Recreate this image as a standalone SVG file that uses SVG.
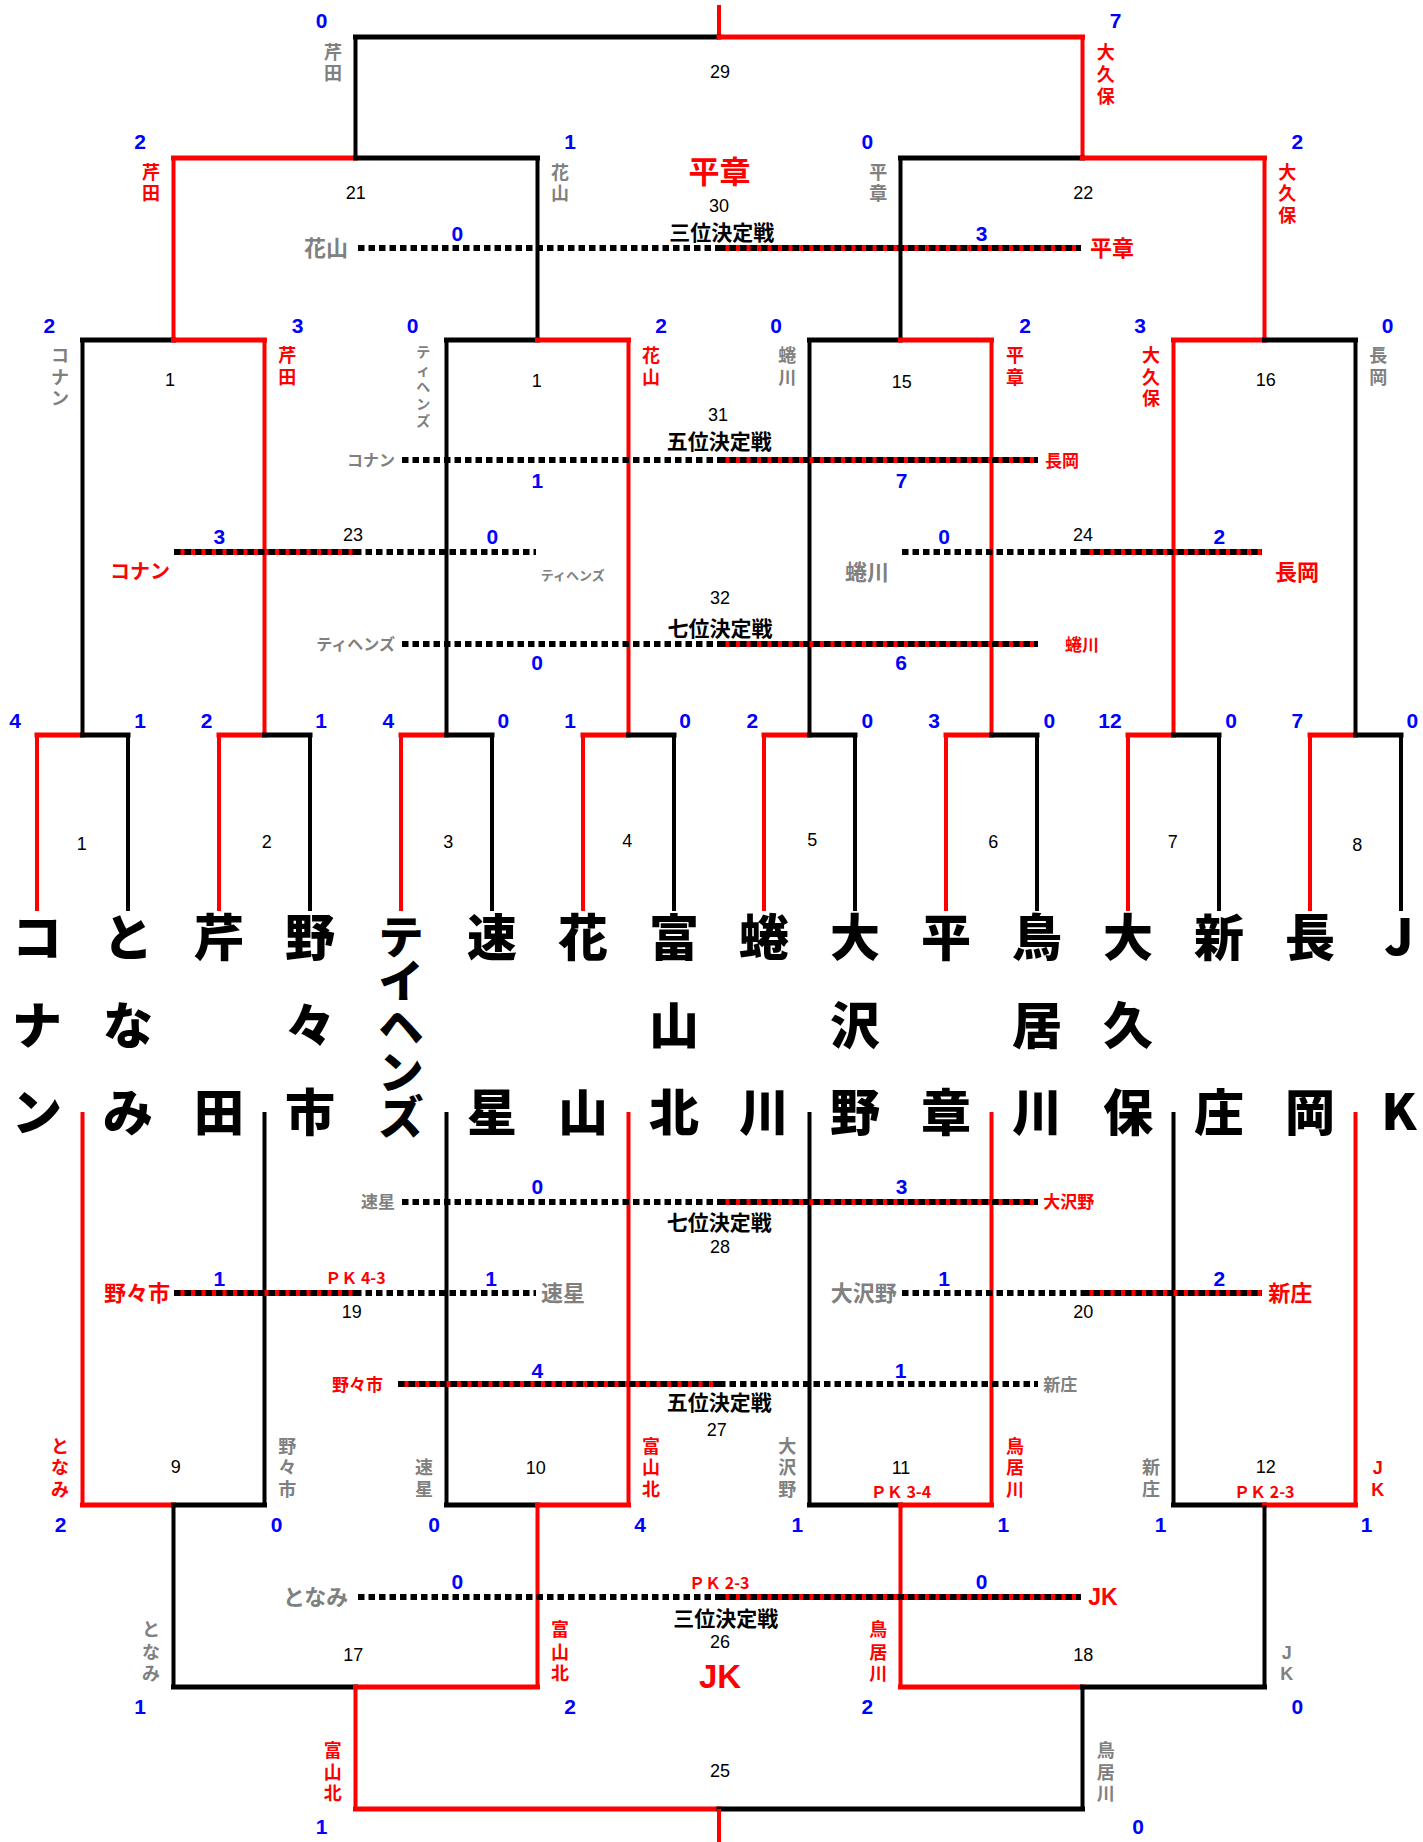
<svg xmlns="http://www.w3.org/2000/svg" width="1423" height="1842" viewBox="0 0 1423 1842">
<style>
.h{stroke-width:5;stroke-linecap:square;fill:none}
.v{stroke-width:4;fill:none}
.r{stroke:#f00}
.b{stroke:#000}
.dt{stroke:#000;stroke-width:6;stroke-dasharray:6.5 4;fill:none}
.rs{stroke:#f00;stroke-width:6;fill:none}
.sc{font-family:"Liberation Sans",Arial,sans-serif;font-weight:bold;font-size:21px;fill:#00f;text-anchor:middle}
.mn{font-family:"Liberation Sans",Arial,sans-serif;font-size:18px;fill:#000;text-anchor:middle}
.jp{font-family:"Noto Sans CJK JP","Noto Sans CJK SC",sans-serif;font-weight:bold}
.lt{font-family:"Liberation Sans",Arial,sans-serif;font-weight:bold}
.big{font-family:"Noto Sans CJK JP","Noto Sans CJK SC",sans-serif;font-weight:900;font-size:50px;text-anchor:middle;fill:#000}
.vn{font-size:18px;text-anchor:middle}
.f13{font-size:13px}.f14{font-size:14px;text-anchor:middle}.f16{font-size:16px}.f17{font-size:17px}
.f20{font-size:20px}.f21{font-size:21px;text-anchor:middle}.f22{font-size:22px}.f23{font-size:23px}
.f31{font-size:31px;text-anchor:middle}.f33{font-size:33px;text-anchor:middle}
.e{text-anchor:end}.s{text-anchor:start}.m{text-anchor:middle}
.gr{fill:#808080}.rd{fill:#f00}.bk{fill:#000}
</style>

<g id="connectors">
<!-- top final -->
<line class="r v" x1="719" y1="5" x2="719" y2="37"/>
<line class="b h" x1="355.5" y1="37" x2="719" y2="37"/>
<line class="r h" x1="719" y1="37" x2="1082.5" y2="37"/>
<line class="b v" x1="355.5" y1="37" x2="355.5" y2="158"/>
<line class="r v" x1="1082.5" y1="37" x2="1082.5" y2="158"/>
<!-- semifinals -->
<line class="r h" x1="173.5" y1="158" x2="355.5" y2="158"/>
<line class="b h" x1="355.5" y1="158" x2="537.5" y2="158"/>
<line class="r v" x1="173.5" y1="158" x2="173.5" y2="340"/>
<line class="b v" x1="537.5" y1="158" x2="537.5" y2="340"/>
<line class="b h" x1="900.5" y1="158" x2="1082.5" y2="158"/>
<line class="r h" x1="1082.5" y1="158" x2="1264.5" y2="158"/>
<line class="b v" x1="900.5" y1="158" x2="900.5" y2="340"/>
<line class="r v" x1="1264.5" y1="158" x2="1264.5" y2="340"/>
<!-- quarterfinals -->
<line class="b h" x1="82.5" y1="340" x2="173.5" y2="340"/>
<line class="r h" x1="173.5" y1="340" x2="264.5" y2="340"/>
<line class="b v" x1="82.5" y1="340" x2="82.5" y2="735"/>
<line class="r v" x1="264.5" y1="340" x2="264.5" y2="735"/>
<line class="b h" x1="446.5" y1="340" x2="537.5" y2="340"/>
<line class="r h" x1="537.5" y1="340" x2="628.5" y2="340"/>
<line class="b v" x1="446.5" y1="340" x2="446.5" y2="735"/>
<line class="r v" x1="628.5" y1="340" x2="628.5" y2="735"/>
<line class="b h" x1="809.5" y1="340" x2="900.5" y2="340"/>
<line class="r h" x1="900.5" y1="340" x2="991.5" y2="340"/>
<line class="b v" x1="809.5" y1="340" x2="809.5" y2="735"/>
<line class="r v" x1="991.5" y1="340" x2="991.5" y2="735"/>
<line class="r h" x1="1173.5" y1="340" x2="1264.5" y2="340"/>
<line class="b h" x1="1264.5" y1="340" x2="1355.5" y2="340"/>
<line class="r v" x1="1173.5" y1="340" x2="1173.5" y2="735"/>
<line class="b v" x1="1355.5" y1="340" x2="1355.5" y2="735"/>
<!-- first round top -->
<line class="r h" x1="37" y1="735" x2="82.5" y2="735"/><line class="b h" x1="82.5" y1="735" x2="128" y2="735"/>
<line class="r v" x1="37" y1="735" x2="37" y2="911"/><line class="b v" x1="128" y1="735" x2="128" y2="911"/>
<line class="r h" x1="219" y1="735" x2="264.5" y2="735"/><line class="b h" x1="264.5" y1="735" x2="310" y2="735"/>
<line class="r v" x1="219" y1="735" x2="219" y2="911"/><line class="b v" x1="310" y1="735" x2="310" y2="911"/>
<line class="r h" x1="401" y1="735" x2="446.5" y2="735"/><line class="b h" x1="446.5" y1="735" x2="492" y2="735"/>
<line class="r v" x1="401" y1="735" x2="401" y2="911"/><line class="b v" x1="492" y1="735" x2="492" y2="911"/>
<line class="r h" x1="583" y1="735" x2="628.5" y2="735"/><line class="b h" x1="628.5" y1="735" x2="674" y2="735"/>
<line class="r v" x1="583" y1="735" x2="583" y2="911"/><line class="b v" x1="674" y1="735" x2="674" y2="911"/>
<line class="r h" x1="764" y1="735" x2="809.5" y2="735"/><line class="b h" x1="809.5" y1="735" x2="855" y2="735"/>
<line class="r v" x1="764" y1="735" x2="764" y2="911"/><line class="b v" x1="855" y1="735" x2="855" y2="911"/>
<line class="r h" x1="946" y1="735" x2="991.5" y2="735"/><line class="b h" x1="991.5" y1="735" x2="1037" y2="735"/>
<line class="r v" x1="946" y1="735" x2="946" y2="911"/><line class="b v" x1="1037" y1="735" x2="1037" y2="911"/>
<line class="r h" x1="1128" y1="735" x2="1173.5" y2="735"/><line class="b h" x1="1173.5" y1="735" x2="1219" y2="735"/>
<line class="r v" x1="1128" y1="735" x2="1128" y2="911"/><line class="b v" x1="1219" y1="735" x2="1219" y2="911"/>
<line class="r h" x1="1310" y1="735" x2="1355.5" y2="735"/><line class="b h" x1="1355.5" y1="735" x2="1401" y2="735"/>
<line class="r v" x1="1310" y1="735" x2="1310" y2="911"/><line class="b v" x1="1401" y1="735" x2="1401" y2="911"/>
<!-- bottom legs -->
<line class="r v" x1="82.5" y1="1112" x2="82.5" y2="1505"/>
<line class="b v" x1="264.5" y1="1112" x2="264.5" y2="1505"/>
<line class="b v" x1="446.5" y1="1112" x2="446.5" y2="1505"/>
<line class="r v" x1="628.5" y1="1112" x2="628.5" y2="1505"/>
<line class="b v" x1="809.5" y1="1112" x2="809.5" y2="1505"/>
<line class="r v" x1="991.5" y1="1112" x2="991.5" y2="1505"/>
<line class="b v" x1="1173.5" y1="1112" x2="1173.5" y2="1505"/>
<line class="r v" x1="1355.5" y1="1112" x2="1355.5" y2="1505"/>
<!-- matches 9-12 -->
<line class="r h" x1="82.5" y1="1505" x2="173.5" y2="1505"/><line class="b h" x1="173.5" y1="1505" x2="264.5" y2="1505"/>
<line class="b v" x1="173.5" y1="1505" x2="173.5" y2="1687"/>
<line class="b h" x1="446.5" y1="1505" x2="537.5" y2="1505"/><line class="r h" x1="537.5" y1="1505" x2="628.5" y2="1505"/>
<line class="r v" x1="537.5" y1="1505" x2="537.5" y2="1687"/>
<line class="b h" x1="809.5" y1="1505" x2="900.5" y2="1505"/><line class="r h" x1="900.5" y1="1505" x2="991.5" y2="1505"/>
<line class="r v" x1="900.5" y1="1505" x2="900.5" y2="1687"/>
<line class="b h" x1="1173.5" y1="1505" x2="1264.5" y2="1505"/><line class="r h" x1="1264.5" y1="1505" x2="1355.5" y2="1505"/>
<line class="b v" x1="1264.5" y1="1505" x2="1264.5" y2="1687"/>
<!-- matches 17,18 -->
<line class="b h" x1="173.5" y1="1687" x2="355.5" y2="1687"/><line class="r h" x1="355.5" y1="1687" x2="537.5" y2="1687"/>
<line class="r v" x1="355.5" y1="1687" x2="355.5" y2="1809"/>
<line class="r h" x1="900.5" y1="1687" x2="1082.5" y2="1687"/><line class="b h" x1="1082.5" y1="1687" x2="1264.5" y2="1687"/>
<line class="b v" x1="1082.5" y1="1687" x2="1082.5" y2="1809"/>
<!-- match 25 -->
<line class="r h" x1="355.5" y1="1809" x2="719" y2="1809"/><line class="b h" x1="719" y1="1809" x2="1082.5" y2="1809"/>
<line class="r v" x1="719" y1="1809" x2="719" y2="1842"/>
<!-- dotted placement / consolation lines -->
<line class="dt" x1="358" y1="248" x2="719" y2="248"/>
<line class="rs" x1="719" y1="248" x2="1081" y2="248"/><line class="dt" x1="719" y1="248" x2="1081" y2="248"/>
<line class="dt" x1="402" y1="460" x2="719" y2="460"/>
<line class="rs" x1="719" y1="460" x2="1038" y2="460"/><line class="dt" x1="719" y1="460" x2="1038" y2="460"/>
<line class="rs" x1="174" y1="552" x2="355" y2="552"/><line class="dt" x1="174" y1="552" x2="355" y2="552"/>
<line class="dt" x1="355" y1="552" x2="536" y2="552"/>
<line class="dt" x1="902" y1="552" x2="1083" y2="552"/>
<line class="rs" x1="1083" y1="552" x2="1262" y2="552"/><line class="dt" x1="1083" y1="552" x2="1262" y2="552"/>
<line class="dt" x1="402" y1="644" x2="719" y2="644"/>
<line class="rs" x1="719" y1="644" x2="1038" y2="644"/><line class="dt" x1="719" y1="644" x2="1038" y2="644"/>
<line class="dt" x1="402" y1="1202" x2="719" y2="1202"/>
<line class="rs" x1="719" y1="1202" x2="1038" y2="1202"/><line class="dt" x1="719" y1="1202" x2="1038" y2="1202"/>
<line class="rs" x1="174" y1="1293" x2="355" y2="1293"/><line class="dt" x1="174" y1="1293" x2="355" y2="1293"/>
<line class="dt" x1="355" y1="1293" x2="536" y2="1293"/>
<line class="dt" x1="902" y1="1293" x2="1083" y2="1293"/>
<line class="rs" x1="1083" y1="1293" x2="1262" y2="1293"/><line class="dt" x1="1083" y1="1293" x2="1262" y2="1293"/>
<line class="rs" x1="398" y1="1384" x2="719" y2="1384"/><line class="dt" x1="398" y1="1384" x2="719" y2="1384"/>
<line class="dt" x1="719" y1="1384" x2="1038" y2="1384"/>
<line class="dt" x1="358" y1="1597" x2="719" y2="1597"/>
<line class="rs" x1="719" y1="1597" x2="1081" y2="1597"/><line class="dt" x1="719" y1="1597" x2="1081" y2="1597"/>
</g>

<!-- ===== top bracket nodes ===== -->
<g id="match-29">
<text class="mn" x="720" y="78.2">29</text>
<text class="sc" x="321.7" y="28.2">0</text>
<text class="sc" x="1115.7" y="28.2">7</text>
<text class="jp vn gr"><tspan x="333" y="58.5">芹</tspan><tspan x="333" y="80.1">田</tspan></text>
<text class="jp vn rd"><tspan x="1105.7" y="59.3">大</tspan><tspan x="1105.7" y="80.8">久</tspan><tspan x="1105.7" y="102.6">保</tspan></text>
</g>
<g id="match-30">
<text class="jp f31 rd" x="719.5" y="182.8">平章</text>
<text class="mn" x="719" y="211.5">30</text>
<text class="jp f21 bk" x="721.7" y="239.7">三位決定戦</text>
<text class="jp f22 gr e" x="348" y="256.4">花山</text>
<text class="jp f22 rd s" x="1090" y="256.4">平章</text>
<text class="sc" x="457.3" y="240.5">0</text>
<text class="sc" x="981.7" y="240.5">3</text>
</g>
<g id="match-21">
<text class="mn" x="355.7" y="198.8">21</text>
<text class="sc" x="140" y="149.2">2</text>
<text class="sc" x="570" y="149.2">1</text>
<text class="jp vn rd"><tspan x="151" y="178.5">芹</tspan><tspan x="151" y="200.1">田</tspan></text>
<text class="jp vn gr"><tspan x="560" y="178.5">花</tspan><tspan x="560" y="200.1">山</tspan></text>
</g>
<g id="match-22">
<text class="mn" x="1083.3" y="198.8">22</text>
<text class="sc" x="867.3" y="149.2">0</text>
<text class="sc" x="1297.3" y="149.2">2</text>
<text class="jp vn gr"><tspan x="878.3" y="178.5">平</tspan><tspan x="878.3" y="200.1">章</tspan></text>
<text class="jp vn rd"><tspan x="1287.3" y="178.5">大</tspan><tspan x="1287.3" y="200.1">久</tspan><tspan x="1287.3" y="221.7">保</tspan></text>
</g>
<g id="qf-a">
<text class="mn" x="170" y="385.5">1</text>
<text class="sc" x="49.3" y="332.5">2</text>
<text class="sc" x="297.7" y="332.5">3</text>
<text class="jp vn gr"><tspan x="60" y="361.8">コ</tspan><tspan x="60" y="383.5">ナ</tspan><tspan x="60" y="405.1">ン</tspan></text>
<text class="jp vn rd"><tspan x="287.3" y="361.8">芹</tspan><tspan x="287.3" y="383.5">田</tspan></text>
</g>
<g id="qf-b">
<text class="mn" x="536.7" y="386.5">1</text>
<text class="sc" x="412.7" y="332.5">0</text>
<text class="sc" x="661" y="332.5">2</text>
<text class="jp f14 gr"><tspan x="423.3" y="357.3">テ</tspan><tspan x="423.3" y="374.5">ィ</tspan><tspan x="423.3" y="391.7">ヘ</tspan><tspan x="423.3" y="408.9">ン</tspan><tspan x="423.3" y="426.1">ズ</tspan></text>
<text class="jp vn rd"><tspan x="651" y="361.8">花</tspan><tspan x="651" y="383.5">山</tspan></text>
</g>
<g id="qf-15">
<text class="mn" x="901.7" y="388.2">15</text>
<text class="sc" x="776" y="332.5">0</text>
<text class="sc" x="1025" y="332.5">2</text>
<text class="jp vn gr"><tspan x="787.3" y="361.8">蜷</tspan><tspan x="787.3" y="383.5">川</tspan></text>
<text class="jp vn rd"><tspan x="1015" y="361.8">平</tspan><tspan x="1015" y="383.5">章</tspan></text>
</g>
<g id="qf-16">
<text class="mn" x="1265.7" y="385.5">16</text>
<text class="sc" x="1140" y="332.5">3</text>
<text class="sc" x="1387.7" y="332.5">0</text>
<text class="jp vn rd"><tspan x="1151" y="361.8">大</tspan><tspan x="1151" y="383.5">久</tspan><tspan x="1151" y="405.1">保</tspan></text>
<text class="jp vn gr"><tspan x="1378.3" y="361.8">長</tspan><tspan x="1378.3" y="383.5">岡</tspan></text>
</g>
<g id="match-31">
<text class="mn" x="718" y="420.5">31</text>
<text class="jp f21 bk" x="719.3" y="448.7">五位決定戦</text>
<text class="jp f16 gr e" x="395" y="466.1">コナン</text>
<text class="jp f17 rd s" x="1045" y="466.5">長岡</text>
<text class="sc" x="537.3" y="487.5">1</text>
<text class="sc" x="901.7" y="487.5">7</text>
</g>
<g id="match-23">
<text class="mn" x="353" y="540.5">23</text>
<text class="sc" x="219.3" y="543.5">3</text>
<text class="sc" x="492.3" y="543.5">0</text>
<text class="jp f20 rd e" x="170" y="579.3">コナン</text>
<text class="jp f13 gr s" x="540.7" y="579.9">ティヘンズ</text>
</g>
<g id="match-24">
<text class="mn" x="1083" y="540.5">24</text>
<text class="sc" x="944" y="543.5">0</text>
<text class="sc" x="1219.3" y="543.5">2</text>
<text class="jp f22 gr s" x="845" y="580.1">蜷川</text>
<text class="jp f22 rd s" x="1275" y="580.4">長岡</text>
</g>
<g id="match-32">
<text class="mn" x="720" y="604.2">32</text>
<text class="jp f21 bk" x="720" y="635.7">七位決定戦</text>
<text class="jp f16 gr e" x="395" y="650.1">ティヘンズ</text>
<text class="jp f17 rd s" x="1065" y="650.5">蜷川</text>
<text class="sc" x="537" y="670.2">0</text>
<text class="sc" x="901" y="670.2">6</text>
</g>
<g id="r1-1"><text class="mn" x="81.7" y="849.8">1</text><text class="sc" x="15" y="727.5">4</text><text class="sc" x="140" y="727.5">1</text></g>
<g id="r1-2"><text class="mn" x="266.7" y="847.5">2</text><text class="sc" x="206.7" y="727.5">2</text><text class="sc" x="321" y="727.5">1</text></g>
<g id="r1-3"><text class="mn" x="448.3" y="847.5">3</text><text class="sc" x="388.3" y="727.5">4</text><text class="sc" x="503.3" y="727.5">0</text></g>
<g id="r1-4"><text class="mn" x="627.3" y="847.2">4</text><text class="sc" x="570" y="727.5">1</text><text class="sc" x="685" y="727.5">0</text></g>
<g id="r1-5"><text class="mn" x="812.3" y="845.5">5</text><text class="sc" x="752.3" y="727.5">2</text><text class="sc" x="867.3" y="727.5">0</text></g>
<g id="r1-6"><text class="mn" x="993.3" y="847.5">6</text><text class="sc" x="934" y="727.5">3</text><text class="sc" x="1049.3" y="727.5">0</text></g>
<g id="r1-7"><text class="mn" x="1172.7" y="847.5">7</text><text class="sc" x="1110" y="727.5">12</text><text class="sc" x="1231" y="727.5">0</text></g>
<g id="r1-8"><text class="mn" x="1357.3" y="850.5">8</text><text class="sc" x="1297.3" y="727.5">7</text><text class="sc" x="1412.3" y="727.5">0</text></g>

<!-- ===== team columns ===== -->
<g id="team-konan"><text class="big"><tspan x="37" y="956">コ</tspan><tspan x="37" y="1044">ナ</tspan><tspan x="37" y="1131">ン</tspan></text></g>
<g id="team-tonami"><text class="big"><tspan x="128" y="956">と</tspan><tspan x="128" y="1044">な</tspan><tspan x="128" y="1131">み</tspan></text></g>
<g id="team-serita"><text class="big"><tspan x="219" y="956">芹</tspan><tspan x="219" y="1131">田</tspan></text></g>
<g id="team-nonoichi"><text class="big"><tspan x="310" y="956">野</tspan><tspan x="310" y="1044">々</tspan><tspan x="310" y="1131">市</tspan></text></g>
<g id="team-tihens"><text class="big" style="font-size:45px"><tspan x="401" y="953.5">テ</tspan><tspan x="401" y="998">イ</tspan><tspan x="401" y="1044">ヘ</tspan><tspan x="401" y="1089">ン</tspan><tspan x="401" y="1134">ズ</tspan></text></g>
<g id="team-hayahoshi"><text class="big"><tspan x="492" y="956">速</tspan><tspan x="492" y="1131">星</tspan></text></g>
<g id="team-hanayama"><text class="big"><tspan x="583" y="956">花</tspan><tspan x="583" y="1131">山</tspan></text></g>
<g id="team-toyamakita"><text class="big"><tspan x="674" y="956">富</tspan><tspan x="674" y="1044">山</tspan><tspan x="674" y="1131">北</tspan></text></g>
<g id="team-ninagawa"><text class="big"><tspan x="764" y="956">蜷</tspan><tspan x="764" y="1131">川</tspan></text></g>
<g id="team-osawano"><text class="big"><tspan x="855" y="956">大</tspan><tspan x="855" y="1044">沢</tspan><tspan x="855" y="1131">野</tspan></text></g>
<g id="team-heisho"><text class="big"><tspan x="946" y="956">平</tspan><tspan x="946" y="1131">章</tspan></text></g>
<g id="team-toriikawa"><text class="big"><tspan x="1037" y="956">鳥</tspan><tspan x="1037" y="1044">居</tspan><tspan x="1037" y="1131">川</tspan></text></g>
<g id="team-okubo"><text class="big"><tspan x="1128" y="956">大</tspan><tspan x="1128" y="1044">久</tspan><tspan x="1128" y="1131">保</tspan></text></g>
<g id="team-shinjo"><text class="big"><tspan x="1219" y="956">新</tspan><tspan x="1219" y="1131">庄</tspan></text></g>
<g id="team-nagaoka"><text class="big"><tspan x="1310" y="956">長</tspan><tspan x="1310" y="1131">岡</tspan></text></g>
<g id="team-jk"><text class="big"><tspan x="1399" y="955">J</tspan><tspan x="1399" y="1130">K</tspan></text></g>

<!-- ===== bottom bracket nodes ===== -->
<g id="match-28">
<text class="sc" x="537.3" y="1194.2">0</text>
<text class="sc" x="901.7" y="1194.2">3</text>
<text class="jp f17 gr e" x="395" y="1208.2">速星</text>
<text class="jp f17 rd s" x="1043.3" y="1208.2">大沢野</text>
<text class="jp f21 bk" x="719.3" y="1229.7">七位決定戦</text>
<text class="mn" x="720" y="1252.5">28</text>
</g>
<g id="match-19">
<text class="sc" x="219.3" y="1285.8">1</text>
<text class="sc" x="491" y="1285.8">1</text>
<text class="jp rd m" style="font-size:16px" x="355.5" y="1284.3">ＰＫ 4-3</text>
<text class="jp f22 rd e" x="170" y="1301.4">野々市</text>
<text class="jp f22 gr s" x="541" y="1301.4">速星</text>
<text class="mn" x="351.7" y="1318.2">19</text>
</g>
<g id="match-20">
<text class="sc" x="944" y="1285.8">1</text>
<text class="sc" x="1219.3" y="1285.8">2</text>
<text class="jp f22 gr e" x="896.7" y="1301.4">大沢野</text>
<text class="jp f22 rd s" x="1268.3" y="1301.4">新庄</text>
<text class="mn" x="1083.3" y="1318.2">20</text>
</g>
<g id="match-27">
<text class="sc" x="537.3" y="1377.5">4</text>
<text class="sc" x="900.7" y="1377.5">1</text>
<text class="jp f17 rd e" x="383" y="1390.5">野々市</text>
<text class="jp f17 gr s" x="1043.3" y="1390.5">新庄</text>
<text class="jp f21 bk" x="719.3" y="1409.7">五位決定戦</text>
<text class="mn" x="716.7" y="1435.5">27</text>
</g>
<g id="match-9">
<text class="mn" x="175.7" y="1472.5">9</text>
<text class="jp vn rd"><tspan x="60" y="1452.8">と</tspan><tspan x="60" y="1474.3">な</tspan><tspan x="60" y="1495.8">み</tspan></text>
<text class="jp vn gr"><tspan x="287.3" y="1452.8">野</tspan><tspan x="287.3" y="1474.3">々</tspan><tspan x="287.3" y="1495.8">市</tspan></text>
<text class="sc" x="60.7" y="1531.5">2</text>
<text class="sc" x="276.7" y="1531.5">0</text>
</g>
<g id="match-10">
<text class="mn" x="535.7" y="1474.2">10</text>
<text class="jp vn gr"><tspan x="424" y="1474.3">速</tspan><tspan x="424" y="1495.8">星</tspan></text>
<text class="jp vn rd"><tspan x="651" y="1452.8">富</tspan><tspan x="651" y="1474.3">山</tspan><tspan x="651" y="1495.8">北</tspan></text>
<text class="sc" x="434" y="1531.5">0</text>
<text class="sc" x="640" y="1531.5">4</text>
</g>
<g id="match-11">
<text class="mn" x="901" y="1474.2">11</text>
<text class="jp rd m" style="font-size:16px" x="901" y="1497.7">ＰＫ 3-4</text>
<text class="jp vn gr"><tspan x="787.3" y="1452.8">大</tspan><tspan x="787.3" y="1474.3">沢</tspan><tspan x="787.3" y="1495.8">野</tspan></text>
<text class="jp vn rd"><tspan x="1015" y="1452.8">鳥</tspan><tspan x="1015" y="1474.3">居</tspan><tspan x="1015" y="1495.8">川</tspan></text>
<text class="sc" x="797.3" y="1531.5">1</text>
<text class="sc" x="1003.3" y="1531.5">1</text>
</g>
<g id="match-12">
<text class="mn" x="1265.7" y="1472.5">12</text>
<text class="jp rd m" style="font-size:16px" x="1264.3" y="1497.7">ＰＫ 2-3</text>
<text class="jp vn gr"><tspan x="1151" y="1474.3">新</tspan><tspan x="1151" y="1495.8">庄</tspan></text>
<text class="lt vn rd"><tspan x="1377.7" y="1474.3">J</tspan><tspan x="1377.7" y="1495.8">K</tspan></text>
<text class="sc" x="1160.7" y="1531.5">1</text>
<text class="sc" x="1366.7" y="1531.5">1</text>
</g>
<g id="match-26">
<text class="sc" x="457.3" y="1589.2">0</text>
<text class="sc" x="981.7" y="1589.2">0</text>
<text class="jp rd m" style="font-size:16px" x="719.3" y="1588.7">ＰＫ 2-3</text>
<text class="jp f22 gr e" x="348.3" y="1605.1">となみ</text>
<text class="lt f23 rd s" x="1088.3" y="1605.2">JK</text>
<text class="jp f21 bk" x="725.7" y="1626.3">三位決定戦</text>
<text class="mn" x="720" y="1648.2">26</text>
<text class="lt f33 rd" x="720" y="1687.8">JK</text>
</g>
<g id="match-17">
<text class="mn" x="353.3" y="1660.5">17</text>
<text class="jp vn gr"><tspan x="151" y="1636.1">と</tspan><tspan x="151" y="1658.5">な</tspan><tspan x="151" y="1680.1">み</tspan></text>
<text class="jp vn rd"><tspan x="560" y="1636.1">富</tspan><tspan x="560" y="1658.5">山</tspan><tspan x="560" y="1680.1">北</tspan></text>
<text class="sc" x="140" y="1714.2">1</text>
<text class="sc" x="570" y="1714.2">2</text>
</g>
<g id="match-18">
<text class="mn" x="1083.3" y="1660.5">18</text>
<text class="jp vn rd"><tspan x="878.3" y="1636.1">鳥</tspan><tspan x="878.3" y="1658.5">居</tspan><tspan x="878.3" y="1680.1">川</tspan></text>
<text class="lt vn gr"><tspan x="1286.7" y="1658.5">J</tspan><tspan x="1286.7" y="1680.1">K</tspan></text>
<text class="sc" x="867.3" y="1714.2">2</text>
<text class="sc" x="1297.3" y="1714.2">0</text>
</g>
<g id="match-25">
<text class="mn" x="720" y="1777.2">25</text>
<text class="jp vn rd"><tspan x="332.7" y="1756.8">富</tspan><tspan x="332.7" y="1778.5">山</tspan><tspan x="332.7" y="1800.1">北</tspan></text>
<text class="jp vn gr"><tspan x="1105.7" y="1756.8">鳥</tspan><tspan x="1105.7" y="1778.5">居</tspan><tspan x="1105.7" y="1800.1">川</tspan></text>
<text class="sc" x="321.7" y="1834.2">1</text>
<text class="sc" x="1138" y="1834.2">0</text>
</g>
</svg>
